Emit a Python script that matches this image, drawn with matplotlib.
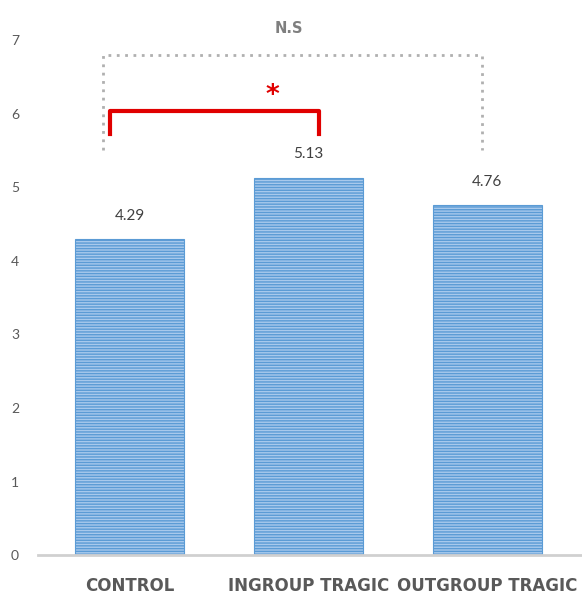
import matplotlib.pyplot as plt

plt.rcParams['font.family'] = ['Lato', 'DejaVu Sans']
plt.rcParams['hatch.linewidth'] = 1.0
plt.rcParams['hatch.color'] = '#5B9BD5'

# data
groups = ['CONTROL', 'INGROUP TRAGIC', 'OUTGROUP TRAGIC']
means = [4.29, 5.13, 4.76]
yticks = [0, 1, 2, 3, 4, 5, 6, 7]

GRAY = '#595959'

fig = plt.figure(figsize=(5.82, 5.97), dpi=100)
ax = fig.add_axes([0.066, 0.070, 0.934, 0.863])

x = range(len(groups))
ax.bar(x, means, width=0.61, color='#A8C9EC', edgecolor='#5B9BD5',
       linewidth=0.8, hatch='------', zorder=2)

for xi, v in zip(x, means):
    ax.text(xi, v + 0.22, f'{v:.2f}', ha='center', va='bottom',
            fontsize=11, color='#404040')

ax.set_xlim(-0.51, 2.53)
ax.set_ylim(0, 7)
ax.set_yticks(yticks)
ax.set_xticks(list(x))
ax.set_xticklabels(groups, fontsize=12, fontweight='bold', color=GRAY,
                   family='DejaVu Sans')
ax.tick_params(axis='x', length=0, pad=16)
ax.tick_params(axis='y', length=0, labelsize=10, labelcolor=GRAY, pad=14)

for s in ['top', 'right', 'left']:
    ax.spines[s].set_visible(False)
ax.spines['bottom'].set_color('#D0D0D0')
ax.spines['bottom'].set_linewidth(2)

# significance brackets
ax.plot([-0.11, -0.11, 1.06, 1.06], [5.72, 6.03, 6.03, 5.72],
        color='#E00000', lw=3, solid_joinstyle='round', clip_on=False, zorder=3)
ax.text(0.80, 6.24, '*', ha='center', va='center', fontsize=19,
        fontweight='bold', color='#E00000', family='DejaVu Sans')

ax.plot([-0.15, -0.15, 1.97, 1.97], [5.5, 6.8, 6.8, 5.5],
        color='#B0B0B0', lw=2, ls=(0, (1, 2)), clip_on=False, zorder=3)
ax.text(0.89, 7.05, 'N.S', ha='center', va='bottom', fontsize=10.5,
        fontweight='bold', color='#7F7F7F', family='DejaVu Sans', clip_on=False)

fig.savefig('out.png', dpi=100, facecolor='white')
